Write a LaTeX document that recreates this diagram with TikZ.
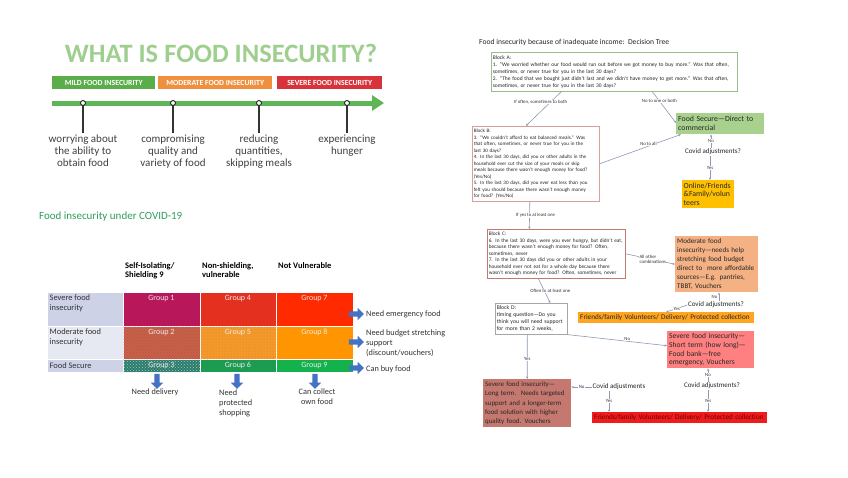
\documentclass[tikz,border=0pt]{standalone}
\usepackage{fontspec}
\setmainfont{Carlito}
\usetikzlibrary{arrows.meta,shapes.arrows,patterns}

\definecolor{ttlgreen}{HTML}{9ECF8E}
\definecolor{mildgreen}{HTML}{5AAE4A}
\definecolor{modorange}{HTML}{F0903E}
\definecolor{sevred}{HTML}{D8323B}
\definecolor{linegreen}{HTML}{5DB558}
\definecolor{covgreen}{HTML}{2F9E5A}
\definecolor{rowblue}{HTML}{CDD2E6}
\definecolor{rowpale}{HTML}{E6E8F2}
\definecolor{grpone}{HTML}{B8175A}
\definecolor{grpfour}{HTML}{E4311F}
\definecolor{grpseven}{HTML}{FF2A00}
\definecolor{grptwo}{HTML}{C4643E}
\definecolor{grpfive}{HTML}{F29A26}
\definecolor{grpeight}{HTML}{FF9500}
\definecolor{grpthree}{HTML}{2D7D6C}
\definecolor{grpsix}{HTML}{1C9B52}
\definecolor{grpnine}{HTML}{13B24C}
\definecolor{arrblue}{HTML}{4472C4}
\definecolor{edgegray}{HTML}{8C9BB3}
\definecolor{fsgreen}{HTML}{A9D18E}
\definecolor{onlineyel}{HTML}{FFC000}
\definecolor{modtan}{HTML}{F4B183}
\definecolor{barorange}{HTML}{FFA51F}
\definecolor{shortpink}{HTML}{FF8080}
\definecolor{longrose}{HTML}{C5786F}
\definecolor{barred}{HTML}{EE1C1C}

\begin{document}
\begin{tikzpicture}[x=1pt, y=-1pt,
  lvlbar/.style={anchor=north west, minimum height=13, inner sep=0, text=white, font=\fontsize{7.8}{8}\selectfont\bfseries},
  dot/.style={circle, draw=black!85, fill=white, line width=0.9, inner sep=0, minimum size=5},
  stage/.style={anchor=north, align=center, inner sep=0, text=black!75, font=\fontsize{11}{11.7}\selectfont},
  stem/.style={black!80, line width=1.3},
  cell/.style={anchor=north west, inner sep=0, minimum width=76.5, draw=white, line width=0.4},
  rowtxt/.style={anchor=north west, align=left, inner sep=0, text=black!80, font=\fontsize{8.4}{10}\selectfont},
  grptxt/.style={anchor=north, inner sep=0, text=white!92!black, font=\fontsize{8}{9}\selectfont},
  hdr/.style={anchor=north west, align=left, inner sep=0, font=\fontsize{8.5}{9.5}\selectfont\bfseries},
  bluearr/.style={single arrow, fill=arrblue, inner sep=2.5, minimum height=15, single arrow head extend=3.5},
  need/.style={align=left, inner sep=0, text=black!80, font=\fontsize{8.3}{10}\selectfont},
  blk/.style={anchor=north west, align=left, line width=0.6, inner sep=1.5, text=black!85, font=\fontsize{5.1}{6.5}\selectfont},
  res/.style={anchor=north west, align=left, inner sep=2, text=black!85},
  covid/.style={inner sep=0.5, text=black!85, font=\fontsize{7}{8}\selectfont},
  edge/.style={edgegray, line width=0.6, -{Stealth[length=2.5pt,width=2.2pt]}},
  elbl/.style={inner sep=0.4, fill=white, text=black!80, font=\fontsize{4.8}{5.5}\selectfont}
]
\useasboundingbox[fill=white] (0,0) rectangle (848,477);

% what is food insecurity
\node[font=\fontsize{26.5}{28}\selectfont\bfseries, text=ttlgreen] (ttl) at (221,53) {WHAT IS FOOD INSECURITY?};
\node[lvlbar, fill=mildgreen, minimum width=103] (mild) at (52,76) {MILD FOOD INSECURITY};
\node[lvlbar, fill=modorange, minimum width=114] (mod) at (158,76) {MODERATE FOOD INSECURITY};
\node[lvlbar, fill=sevred, minimum width=105] (sev) at (277,76) {SEVERE FOOD INSECURITY};
\coordinate (ls) at (52,103);
\coordinate (le) at (384,103);
\draw[linegreen, line width=5, -{Triangle[length=12pt,width=15pt]}] (ls) -- (le);

\node[dot] (d1) at (83,103) {};
\node[dot] (d2) at (173,103) {};
\node[dot] (d3) at (259,103) {};
\node[dot] (d4) at (347,103) {};
\node[stage] (s1) at (83,135) {worrying about\\the ability to\\obtain food};
\node[stage] (s2) at (173,135) {compromising\\quality and\\variety of food};
\node[stage] (s3) at (259,135) {reducing\\quantities,\\skipping meals};
\node[stage] (s4) at (347,135) {experiencing\\hunger};
\foreach \i in {1,...,4}
  \draw[stem] (d\i.south) -- ([yshift=2]s\i.north);

% covid table
\node[anchor=west, inner sep=0, text=covgreen, font=\fontsize{11}{12}\selectfont] (covttl) at (39,217) {Food insecurity under COVID-19};
\node[hdr] (h1) at (125,262) {Self-Isolating/\\Shielding 9};
\node[hdr] (h2) at (202,262) {Non-shielding,\\vulnerable};
\node[hdr] (h3) at (278,262) {Not Vulnerable};

\node[cell, fill=rowblue, minimum width=76, minimum height=34] (r1) at (47,292) {};
\node[cell, fill=rowpale, minimum width=76, minimum height=33] (r2) at (47,326) {};
\node[cell, fill=rowblue, minimum width=76, minimum height=13] (r3) at (47,359) {};
\node[rowtxt] (r1t) at ([xshift=2.5,yshift=-2.5]r1.north west) {Severe food\\insecurity};
\node[rowtxt] (r2t) at ([xshift=2.5,yshift=-2.5]r2.north west) {Moderate food\\insecurity};
\node[rowtxt, anchor=west] (r3t) at ([xshift=2.5]r3.west) {Food Secure};

\foreach \n/\x/\y/\h/\c in {1/123/292/34/grpone, 4/199.5/292/34/grpfour, 7/276/292/34/grpseven,
    2/123/326/33/grptwo, 5/199.5/326/33/grpfive, 8/276/326/33/grpeight,
    3/123/359/13/grpthree, 6/199.5/359/13/grpsix, 9/276/359/13/grpnine}
  \node[cell, fill=\c, minimum height=\h] (g\n) at (\x,\y) {};
\fill[pattern=crosshatch dots, pattern color=grpone!80] (g2.north west) rectangle (g2.south east);
\fill[pattern=dots, pattern color=grpfour!70] (g5.north west) rectangle (g5.south east);
\fill[pattern=crosshatch dots, pattern color=grpthree!45!white] (g3.north west) rectangle (g3.south east);
\foreach \n in {1,...,9}
  \node[grptxt] (gt\n) at ([yshift=-3]g\n.north) {Group \n};

\node[bluearr] (ar1) at (355,314) {};
\node[bluearr] (ar2) at (355,342) {};
\node[bluearr] (ar3) at (355,368) {};
\node[need, anchor=west] (n1) at (366,314) {Need emergency food};
\node[need, anchor=west] (n2) at (366,343) {Need budget stretching\\support\\(discount/vouchers)};
\node[need, anchor=west] (n3) at (366,369) {Can buy food};
\node[bluearr, shape border rotate=270] (ad1) at (157,380) {};
\node[bluearr, shape border rotate=270] (ad2) at (237,380) {};
\node[bluearr, shape border rotate=270] (ad3) at (315,380) {};
\node[need, anchor=north] (b1) at (155,389) {Need delivery};
\node[need, anchor=north west] (b2) at (219,390) {Need\\protected\\shopping};
\node[need, anchor=north, align=center] (b3) at (317,389) {Can collect\\own food};

% decision tree
\node[anchor=west, inner sep=0, text=black!85, font=\fontsize{7.6}{8}\selectfont] (dtttl) at (479,42) {Food insecurity because of inadequate income:\ \ Decision Tree};

\node[blk, draw=ttlgreen!80!gray, text width=243, minimum height=39, font=\fontsize{5.5}{6.9}\selectfont] (blkA) at (491,52)
  {Block A:\\1. “We worried whether our food would run out before we got money to buy more.” Was that often,\\sometimes, or never true for you in the last 30 days?\\2. “The food that we bought just didn't last and we didn't have money to get more.” Was that often,\\sometimes, or never true for you in the last 30 days?};
\node[blk, draw=longrose!70!white, text width=124, minimum height=75] (blkB) at (472,126)
  {Block B:\\3. “We couldn't afford to eat balanced meals.” Was\\that often, sometimes, or never true for you in the\\last 30 days?\\ 4. In the last 30 days, did you or other adults in the\\household ever cut the size of your meals or skip\\meals because there wasn't enough money for food?\\(Yes/No)\\5. In the last 30 days, did you ever eat less than you\\felt you should because there wasn't enough money\\for food? (Yes/No)};
\node[blk, draw=longrose, text width=135, minimum height=49, font=\fontsize{5.3}{6.5}\selectfont] (blkC) at (487,229)
  {Block C:\\6. In the last 30 days, were you ever hungry, but didn't eat,\\because there wasn't enough money for food? Often,\\sometimes, never\\7. In the last 30 days did you or other adults in your\\household ever not eat for a whole day because there\\wasn't enough money for food? Often, sometimes, never};
\node[blk, draw=gray!70, text width=69, minimum height=31, font=\fontsize{5.7}{7}\selectfont] (blkD) at (495,303)
  {Block D:\\timing question—Do you\\think you will need support\\for more than 2 weeks,};

\node[res, fill=fsgreen, text width=84, minimum height=21, font=\fontsize{7.8}{9}\selectfont] (fsec) at (676,113)
  {Food Secure—Direct to\\commercial};
\node[res, fill=onlineyel, text width=49, inner sep=1.5, minimum height=28, font=\fontsize{7.8}{8.6}\selectfont] (online) at (682,180)
  {Online/Friends\\\&Family/volun\\teers};
\node[res, fill=modtan, text width=79, minimum height=56, font=\fontsize{7.1}{8.9}\selectfont] (modb) at (675,236)
  {Moderate food\\insecurity—needs help\\stretching food budget\\direct to\ \ more affordable\\sources—E.g. pantries,\\TBBT, Vouchers};
\node[res, fill=barorange, text width=172, minimum height=11, inner sep=2, font=\fontsize{7.2}{7.5}\selectfont] (orgbar) at (578,312)
  {Friends/family Volunteers/ Delivery/ Protected collection};
\node[res, fill=shortpink, text width=83, minimum height=37, font=\fontsize{7.5}{8.8}\selectfont] (sshort) at (667,331)
  {Severe food insecurity—\\Short term (how long)—\\Food bank—free\\emergency, Vouchers};
\node[res, fill=longrose, text width=84, minimum height=48, font=\fontsize{6.9}{9.2}\selectfont] (slong) at (483,379)
  {Severe food insecurity—\\Long term.\ \ Needs targeted\\support and a longer-term\\food solution with higher\\quality food. Vouchers};
\node[res, fill=barred, text=red!45!black, text width=171, minimum height=11, font=\fontsize{7.2}{7.5}\selectfont] (redbar) at (592,412)
  {Friends/family Volunteers/ Delivery/ Protected collection};

\node[covid] (cov1) at (713,152) {Covid adjustments?};
\node[covid] (cov2) at (716,305) {Covid adjustments?};
\node[covid] (cov3) at (619,387) {Covid adjustments};
\node[covid] (cov4) at (712,386) {Covid adjustments?};

\draw[edge] ([xshift=-53]blkA.south) -- node[elbl, pos=0.3, xshift=-10] {If often, sometimes to both} ([xshift=-10]blkB.north);
\draw[edge] ([xshift=38]blkA.south) -- node[elbl, pos=0.3] {No to one or both} ([yshift=-10]fsec.north west);
\draw[edge] (blkB.east) -- node[elbl, pos=0.6, anchor=south] {No to all} ([xshift=5]fsec.south west);
\draw[edge] ([xshift=-6]blkB.south) -- node[elbl, pos=0.5, xshift=6] {If yes to at least one} ([xshift=-27]blkC.north);
\draw[edge] (blkC.east) -- node[elbl, pos=0.55, align=left] {All other\\combinations} (modb.west);
\draw[edge] ([xshift=-18]blkC.south) -- node[elbl, pos=0.5, xshift=6] {Often to at least one} ([xshift=19]blkD.north);
\draw[edge] (blkD.south east) -- node[elbl, pos=0.6, anchor=south] {No} ([yshift=4]sshort.west);
\draw[edge] ([xshift=-4]blkD.south) -- node[elbl, pos=0.55] {Yes} (slong.north);

\draw[edge] ([xshift=-2]cov1.north) -- node[elbl] {No} ([xshift=-2]cov1.north |- fsec.south);
\draw[edge] ([xshift=-3]cov1.south) -- node[elbl] {Yes} ([xshift=-3]cov1.south |- online.north);
\draw[edge] ([xshift=3]cov2.north) -- node[elbl, left=1] {No} ([xshift=3]cov2.north |- modb.south);
\draw[edge] (cov2.west) -- node[elbl] {Yes} (orgbar.north);
\draw[edge] (cov3.west) -- node[elbl] {No} (cov3.west -| slong.east);
\draw[edge] ([xshift=-10]cov3.south) -- node[elbl] {Yes} ([xshift=-10]cov3.south |- redbar.north);
\draw[edge] ([xshift=-4]cov4.north) -- node[elbl] {No} ([xshift=-4]cov4.north |- sshort.south);
\draw[edge] ([xshift=-4]cov4.south) -- node[elbl] {Yes} ([xshift=-4]cov4.south |- redbar.north);
\end{tikzpicture}
\end{document}
